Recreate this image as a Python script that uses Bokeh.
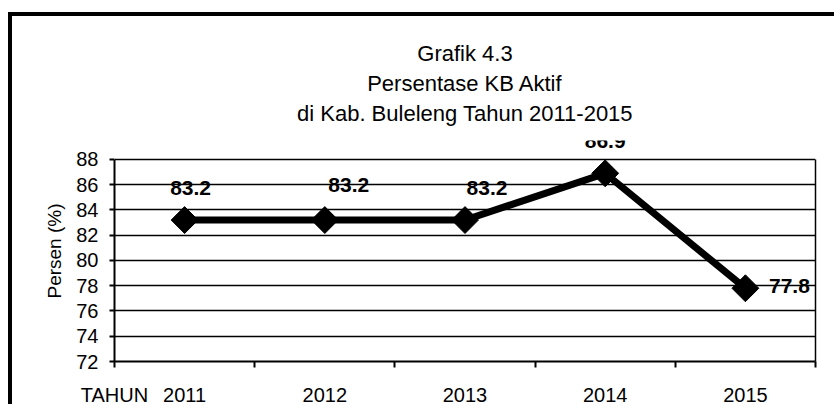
from bokeh.plotting import figure
from bokeh.models import (ColumnDataSource, Range1d, LinearAxis, Title,
                          FixedTicker, LabelSet)
from bokeh.core.properties import value
from bokeh.embed import file_html
from bokeh.resources import INLINE

# ---- data ----
years = ["2011", "2012", "2013", "2014", "2015"]
values = [83.2, 83.2, 83.2, 86.9, 77.8]
y_ticks = [72, 74, 76, 78, 80, 82, 84, 86, 88]
title_lines = ["Grafik 4.3", "Persentase KB Aktif", "di Kab. Buleleng Tahun 2011-2015"]
y_label = "Persen (%)"
x_label = "TAHUN"

# label pixel offsets (style only)
label_dx = [6, 24, 22, 0, 44]
label_dy = [32, 35, 32, 32, 2]

FONT = "Liberation Sans"

n = len(years)
centers = [i + 0.5 for i in range(n)]       # category slot centres
bounds = list(range(n + 1))                  # category slot boundaries
y_lo, y_hi = y_ticks[0], y_ticks[-1]

# plot area extends a little above the top gridline (labels clip there, as in the original)
p = figure(width=826, height=392, x_range=Range1d(0, n), y_range=Range1d(y_lo, 89.5),
           output_backend="svg", toolbar_location=None, x_axis_location=None,
           min_border_left=102, min_border_right=23, min_border_top=124, min_border_bottom=44)
p.styles = {"border-top": "4px solid black", "border-left": "4px solid black",
            "margin-top": "12px", "margin-left": "8px"}
p.background_fill_color = "white"
p.border_fill_color = "white"
p.outline_line_color = None

# spacer between plot area and title
spacer = LinearAxis(ticker=FixedTicker(ticks=[n / 2]), major_label_overrides={n / 2: ""},
                    axis_line_color=None, major_tick_out=13, major_tick_in=0,
                    minor_tick_out=0, minor_tick_in=0, major_label_standoff=0,
                    major_label_text_font_size="1px",
                    major_tick_line_color=None, minor_tick_line_color=None)
p.add_layout(spacer, "above")

# titles (closest to plot first)
for line in reversed(title_lines):
    t = Title(text=line, align="center", text_font=FONT, text_font_size="22px",
              text_font_style="normal", text_color="black", standoff=3)
    p.add_layout(t, "above")

# y axis
p.yaxis.ticker = FixedTicker(ticks=y_ticks)
p.yaxis.bounds = (y_lo, y_hi)
p.yaxis.axis_label = y_label
p.yaxis.axis_label_text_font = FONT
p.yaxis.axis_label_text_font_style = "normal"
p.yaxis.axis_label_text_font_size = "19px"
p.yaxis.axis_label_text_color = "black"
p.yaxis.axis_label_standoff = 8
p.yaxis.major_label_text_font = FONT
p.yaxis.major_label_text_font_size = "20px"
p.yaxis.major_label_text_color = "black"
p.yaxis.major_label_standoff = 11
p.yaxis.major_tick_in = 0
p.yaxis.major_tick_out = 5
p.yaxis.major_tick_line_color = "black"
p.yaxis.major_tick_line_width = 2
p.yaxis.minor_tick_line_color = None
p.yaxis.axis_line_color = "black"
p.yaxis.axis_line_width = 2

p.ygrid.grid_line_color = "black"
p.ygrid.grid_line_width = 1.5
for g in p.xgrid:
    g.grid_line_color = None

# right border of the plot area
right_axis = LinearAxis(ticker=FixedTicker(ticks=[]), bounds=(y_lo, y_hi),
                        axis_line_color="black", axis_line_width=1.5,
                        major_tick_out=0, major_tick_in=0, minor_tick_out=0, minor_tick_in=0,
                        major_label_standoff=0)
p.add_layout(right_axis, "right")

# x axis: boundary ticks + category labels
tick_axis = LinearAxis(ticker=FixedTicker(ticks=bounds),
                       major_label_overrides={b: "" for b in bounds})
tick_axis.major_label_text_font_size = "1px"
tick_axis.major_label_standoff = 0
tick_axis.major_tick_in = 0
tick_axis.major_tick_out = 6
tick_axis.major_tick_line_width = 2
tick_axis.major_tick_line_color = "black"
tick_axis.minor_tick_line_color = None
tick_axis.axis_line_color = "black"
tick_axis.axis_line_width = 2
p.add_layout(tick_axis, "below")

# category labels; the axis-title "TAHUN" sits in the same row, at the left edge
x_label_pos = bounds[0]
cat_axis = LinearAxis(ticker=FixedTicker(ticks=[x_label_pos] + centers),
                      major_label_overrides={**{x_label_pos: x_label},
                                             **{c: y for c, y in zip(centers, years)}})
cat_axis.axis_line_color = None
cat_axis.major_tick_line_color = None
cat_axis.minor_tick_line_color = None
cat_axis.major_label_text_font = FONT
cat_axis.major_label_text_font_size = "20px"
cat_axis.major_label_text_color = "black"
cat_axis.major_label_standoff = 10
p.add_layout(cat_axis, "below")

# series
src = ColumnDataSource(dict(x=centers, y=values, t=[f"{v:.1f}" for v in values],
                            dx=label_dx, dy=label_dy))
p.line("x", "y", source=src, line_color="black", line_width=7, line_join="miter")
p.scatter("x", "y", source=src, marker="square", angle=45, angle_units="deg",
          size=19, fill_color="black", line_color="black")

labels = LabelSet(x="x", y="y", text="t", source=src, x_offset="dx", y_offset="dy",
                  text_font=value(FONT), text_font_style="bold", text_font_size="21px",
                  text_align="center", text_baseline="middle", text_color="black")
p.add_layout(labels)

open("out.html", "w").write(file_html(p, INLINE))
